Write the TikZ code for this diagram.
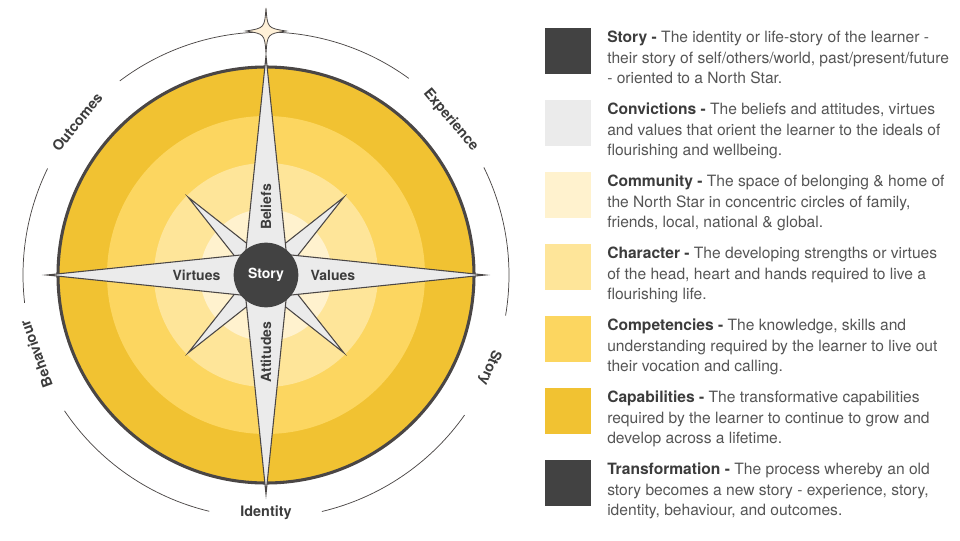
\documentclass[tikz,border=0pt]{standalone}
\usepackage{fontspec}
\setmainfont{TeX Gyre Heros}
\usetikzlibrary{calc, positioning}

\definecolor{storygrey}{HTML}{424242}
\definecolor{convgrey}{HTML}{EBEBEB}
\definecolor{commcol}{HTML}{FFF2CE}
\definecolor{charcol}{HTML}{FEE599}
\definecolor{compcol}{HTML}{FCD660}
\definecolor{capcol}{HTML}{F1C232}
\definecolor{linegrey}{HTML}{4A4645}
\definecolor{labelgrey}{HTML}{3C3C3C}
\definecolor{descgrey}{HTML}{555555}
\definecolor{starcream}{HTML}{FFF1D8}

\begin{document}
\begin{tikzpicture}[x=0.75pt, y=0.75pt,
		arm/.style={fill=convgrey, draw=linegrey, line width=0.8pt, line join=miter},
		cycle arc/.style={draw=linegrey, line width=0.55pt},
		cycle label/.style={font=\fontsize{10.8}{13}\selectfont\bfseries, text=labelgrey, inner sep=0pt},
		arm label/.style={font=\fontsize{10.5}{13}\selectfont\bfseries, text=labelgrey, inner sep=0pt},
		key box/.style={minimum width=34.5pt, minimum height=34.5pt, inner sep=0pt, anchor=north west},
		key text/.style={font=\fontsize{11.7}{15.2}\selectfont, text=descgrey, align=left, inner sep=0pt, anchor=north west}]
		% Definitions
		\useasboundingbox (-266,-265) rectangle (694,275);
		\coordinate (c) at (0,0);
		\coordinate (ns) at (90:244);
		
		% Transformation cycle arcs
		\draw[cycle arc] (54:243) arc[start angle=54, end angle=127, radius=243];
		\draw[cycle arc] (154:243) arc[start angle=154, end angle=186.6, radius=243];
		\draw[cycle arc] (214:243) arc[start angle=214, end angle=256.5, radius=243];
		\draw[cycle arc] (283.3:243) arc[start angle=283.3, end angle=324.8, radius=243];
		\draw[cycle arc] (350.4:243) arc[start angle=350.4, end angle=386.3, radius=243];
		
		% North Star
		\begin{scope}[shift={(ns)}]
			\filldraw[fill=starcream, draw=linegrey, line width=0.6pt] (0,23) .. controls (1.5,3) .. (20,0) .. controls (1.5,-3) .. (0,-22) .. controls (-1.5,-3) .. (-20,0) .. controls (-1.5,3) .. (0,23) -- cycle;
		\end{scope}
		
		% Rings
		\fill[capcol] (c) circle[radius=208];
		\fill[compcol] (c) circle[radius=159];
		\fill[charcol] (c) circle[radius=112];
		\fill[commcol] (c) circle[radius=66];
		\draw[linegrey, line width=2.3pt] (c) circle[radius=208];
		
		% Compass
		\foreach \a in {45,135,225,315}
			\filldraw[arm] (\a:110) -- ($(c)+(\a+90:13)$) -- ($(c)+(\a-90:13)$) -- cycle;
		\filldraw[arm] (90:219) -- (45:29) -- (0:219) -- (-45:29) -- (-90:219) -- (-135:29) -- (180:219) -- (135:29) -- cycle;
		\node[circle, fill=storygrey, minimum size=48.5pt, inner sep=0pt, text=white, font=\fontsize{10.5}{13}\selectfont\bfseries] (story) at (c) {Story};
		
		\node[arm label, rotate=90] (beliefs) at (0,68) {Beliefs};
		\node[arm label, rotate=90] (attitudes) at (0,-77) {Attitudes};
		\node[arm label] (virtues) at (-69.5,0) {Virtues};
		\node[arm label] (values) at (67,0) {Values};
		
		% Cycle labels
		\node[cycle label, rotate=51] (outcomes) at (141:243) {Outcomes};
		\node[cycle label, rotate=-50] (experience) at (40:241) {Experience};
		\node[cycle label, rotate=-112.5] (storylbl) at (-22.5:242) {Story};
		\node[cycle label] (identity) at (-90:238) {Identity};
		\node[cycle label, rotate=110] (behaviour) at (199:243) {Behaviour};
		
		% Key
		\node[key box, fill=storygrey] (k1) at (279,247) {};
		\node[key text] (t1) at (341,244) {\textbf{\color{labelgrey}Story -} The identity or life-story of the learner -\\their story of self/others/world, past/present/future\\- oriented to a North Star.};
		\node[key box, fill=convgrey] (k2) at (279,175) {};
		\node[key text] (t2) at (341,172) {\textbf{\color{labelgrey}Convictions -} The beliefs and attitudes, virtues\\and values that orient the learner to the ideals of\\flourishing and wellbeing.};
		\node[key box, fill=commcol] (k3) at (279,103) {};
		\node[key text] (t3) at (341,100) {\textbf{\color{labelgrey}Community -} The space of belonging \& home of\\the North Star in concentric circles of family,\\friends, local, national \& global.};
		\node[key box, fill=charcol] (k4) at (279,31) {};
		\node[key text] (t4) at (341,28) {\textbf{\color{labelgrey}Character -} The developing strengths or virtues\\of the head, heart and hands required to live a\\flourishing life.};
		\node[key box, fill=compcol] (k5) at (279,-41) {};
		\node[key text] (t5) at (341,-44) {\textbf{\color{labelgrey}Competencies -} The knowledge, skills and\\understanding required by the learner to live out\\their vocation and calling.};
		\node[key box, fill=capcol] (k6) at (279,-113) {};
		\node[key text] (t6) at (341,-116) {\textbf{\color{labelgrey}Capabilities -} The transformative capabilities\\required by the learner to continue to grow and\\develop across a lifetime.};
		\node[key box, fill=storygrey] (k7) at (279,-185) {};
		\node[key text] (t7) at (341,-188) {\textbf{\color{labelgrey}Transformation -} The process whereby an old\\story becomes a new story - experience, story,\\identity, behaviour, and outcomes.};
	\end{tikzpicture}
\end{document}
